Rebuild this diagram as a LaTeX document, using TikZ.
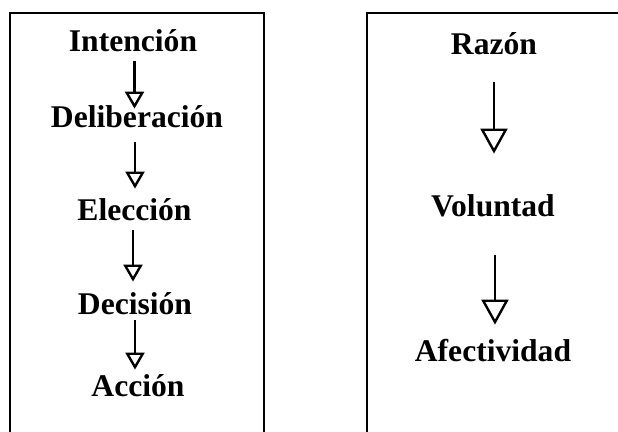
\documentclass[tikz,border=0pt]{standalone}
\usepackage{fontspec}
\setmainfont{Liberation Serif}
\usepackage{tikz}
\usetikzlibrary{arrows.meta, positioning, calc}

\begin{document}
\begin{tikzpicture}[x=0.5pt, y=-0.5pt,
    etiqueta/.style={anchor=base, inner sep=0pt, text height=11pt, text depth=0pt, font=\fontsize{15.8}{18}\selectfont\bfseries},
    marco/.style={line width=1.4pt},
    flechaA/.style={line width=1.2pt, -{Triangle[open, length=8.5pt, width=9.5pt]}},
    flechaB/.style={line width=1.2pt, -{Triangle[open, length=12.5pt, width=13.5pt]}}]

% Bounding box
\useasboundingbox (0,0) rectangle (618,432);

% Frames (open at the bottom)
\draw[marco] (10,433) -- (10,13) -- (264,13) -- (264,433);
\draw[marco] (367,433) -- (367,13) -- (619,13);

% Left column
\node[etiqueta] (int) at (133,52) {Intención};
\node[etiqueta] (del) at (137,128) {Deliberación};
\node[etiqueta] (ele) at (134.5,221) {Elección};
\node[etiqueta] (dec) at (135,315) {Decisión};
\node[etiqueta] (acc) at (138,397) {Acción};

\draw[flechaA] ([yshift=-4.5pt]int.south -| 134.5,0) -- ([yshift=-1.5pt]del.north -| 134.5,0);
\draw[flechaA] ([yshift=-7pt]del.south -| 135,0) -- ([yshift=5pt]ele.north -| 135,0);
\draw[flechaA] ([yshift=-4.5pt]ele.south -| 133,0) -- ([yshift=5.5pt]dec.north -| 133,0);
\draw[flechaA] ([yshift=-2.5pt]dec.south -| 135,0) -- ([yshift=2.5pt]acc.north -| 135,0);

% Right column
\node[etiqueta] (raz) at (494,55) {Razón};
\node[etiqueta] (vol) at (493,217) {Voluntad};
\node[etiqueta] (afe) at (493,362) {Afectividad};

\draw[flechaB] ([yshift=-13.5pt]raz.south -| 494,0) -- ([yshift=20.5pt]vol.north -| 494,0);
\draw[flechaB] ([yshift=-19pt]vol.south -| 495,0) -- ([yshift=7.5pt]afe.north -| 495,0);

\end{tikzpicture}
\end{document}
